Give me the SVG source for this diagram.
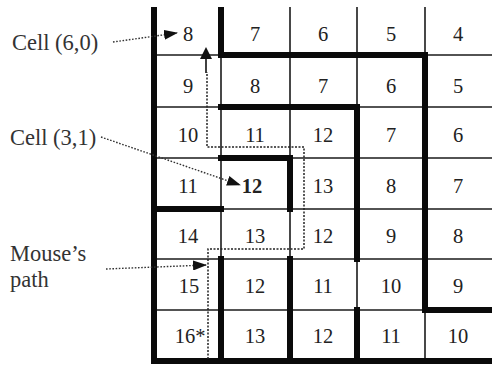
<svg xmlns="http://www.w3.org/2000/svg" width="492" height="365" viewBox="0 0 492 365">
<style>
  .thin { stroke: #1a1a1a; stroke-width: 1.6; fill: none; }
  .thick { stroke: #0a0a0a; stroke-width: 6; fill: none; stroke-linecap: square; }
  .num { font-family: "Liberation Serif", "Times New Roman", serif; font-size: 20.5px; fill: #222; text-anchor: middle; }
  .lbl { font-family: "Liberation Serif", "Times New Roman", serif; font-size: 22.5px; fill: #333; }
  .dot { stroke: #333; stroke-width: 1.4; stroke-dasharray: 1.6 1.6; fill: none; }
  .path { stroke: #222; stroke-width: 1.5; stroke-dasharray: 2 1.5; fill: none; }
</style>
<defs>
  <marker id="ahBig" markerWidth="14" markerHeight="10" refX="13" refY="5" orient="auto" markerUnits="userSpaceOnUse">
    <path d="M0,0 L14,5 L0,10 Z" fill="#111"/>
  </marker>
</defs>
<rect width="492" height="365" fill="#fff"/>

<g id="grid">
  <line class="thin" x1="221" y1="55" x2="221" y2="259"/>
  <line class="thin" x1="290" y1="7" x2="290" y2="158"/>
  <line class="thin" x1="290" y1="209" x2="290" y2="259"/>
  <line class="thin" x1="357" y1="7" x2="357" y2="107"/>
  <line class="thin" x1="357" y1="259" x2="357" y2="310"/>
  <line class="thin" x1="425" y1="7" x2="425" y2="55"/>
  <line class="thin" x1="425" y1="310" x2="425" y2="361"/>
  <line class="thin" x1="154" y1="55" x2="221" y2="55"/>
  <line class="thin" x1="425" y1="55" x2="492" y2="55"/>
  <line class="thin" x1="154" y1="107" x2="221" y2="107"/>
  <line class="thin" x1="357" y1="107" x2="492" y2="107"/>
  <line class="thin" x1="154" y1="158" x2="221" y2="158"/>
  <line class="thin" x1="290" y1="158" x2="492" y2="158"/>
  <line class="thin" x1="221" y1="209" x2="492" y2="209"/>
  <line class="thin" x1="154" y1="259" x2="492" y2="259"/>
  <line class="thin" x1="154" y1="310" x2="425" y2="310"/>
  <line class="thick" x1="154" y1="10" x2="154" y2="361"/>
  <line class="thick" x1="154" y1="361" x2="492" y2="361"/>
  <line class="thick" x1="221" y1="10" x2="221" y2="55"/>
  <line class="thick" x1="221" y1="55" x2="425" y2="55"/>
  <line class="thick" x1="425" y1="55" x2="425" y2="310"/>
  <line class="thick" x1="425" y1="310" x2="492" y2="310"/>
  <line class="thick" x1="221" y1="107" x2="357" y2="107"/>
  <line class="thick" x1="357" y1="107" x2="357" y2="259"/>
  <line class="thick" x1="357" y1="310" x2="357" y2="361"/>
  <line class="thick" x1="221" y1="158" x2="290" y2="158"/>
  <line class="thick" x1="290" y1="158" x2="290" y2="209"/>
  <line class="thick" x1="154" y1="209" x2="221" y2="209"/>
  <line class="thick" x1="221" y1="259" x2="221" y2="361"/>
  <line class="thick" x1="290" y1="259" x2="290" y2="361"/>
</g>

<g id="cells">
  <g id="row0">
    <text class="num" x="188" y="41">8</text>
    <text class="num" x="255" y="41">7</text>
    <text class="num" x="323" y="41">6</text>
    <text class="num" x="391" y="41">5</text>
    <text class="num" x="458" y="41">4</text>
  </g>
  <g id="row1">
    <text class="num" x="188" y="93">9</text>
    <text class="num" x="255" y="93">8</text>
    <text class="num" x="323" y="93">7</text>
    <text class="num" x="391" y="93">6</text>
    <text class="num" x="458" y="93">5</text>
  </g>
  <g id="row2">
    <text class="num" x="188" y="142">10</text>
    <text class="num" x="255" y="142">11</text>
    <text class="num" x="323" y="142">12</text>
    <text class="num" x="391" y="142">7</text>
    <text class="num" x="458" y="142">6</text>
  </g>
  <g id="row3">
    <text class="num" x="188" y="193">11</text>
    <text class="num" x="252" y="193" font-weight="bold">12</text>
    <text class="num" x="323" y="193">13</text>
    <text class="num" x="391" y="193">8</text>
    <text class="num" x="458" y="193">7</text>
  </g>
  <g id="row4">
    <text class="num" x="188" y="243">14</text>
    <text class="num" x="255" y="243">13</text>
    <text class="num" x="323" y="243">12</text>
    <text class="num" x="391" y="243">9</text>
    <text class="num" x="458" y="243">8</text>
  </g>
  <g id="row5">
    <text class="num" x="189" y="293">15</text>
    <text class="num" x="255" y="293">12</text>
    <text class="num" x="323" y="293">11</text>
    <text class="num" x="391" y="293">10</text>
    <text class="num" x="458" y="293">9</text>
  </g>
  <g id="row6">
    <text class="num" x="190" y="343">16*</text>
    <text class="num" x="255" y="343">13</text>
    <text class="num" x="323" y="343">12</text>
    <text class="num" x="391" y="343">11</text>
    <text class="num" x="458" y="343">10</text>
  </g>
</g>

<g id="label-cell60"><text class="lbl" x="12" y="50">Cell (6,0)</text></g>
<g id="label-cell31"><text class="lbl" x="10" y="145">Cell (3,1)</text></g>
<g id="label-mouse"><text class="lbl" x="10" y="261">Mouse’s</text><text class="lbl" x="10" y="287">path</text></g>

<g id="connectors">
  <line class="dot" x1="113" y1="42" x2="177" y2="33" marker-end="url(#ahBig)"/>
  <line class="dot" x1="101" y1="137" x2="240" y2="185" marker-end="url(#ahBig)"/>
  <line class="dot" x1="106" y1="269" x2="206" y2="265" marker-end="url(#ahBig)"/>
  <polyline class="path" points="208,359 208,249 304,249 304,147 207,147 207,72"/>
  <line stroke="#111" stroke-width="1.6" x1="206" y1="73" x2="206" y2="56"/>
  <path d="M200,59 L206,47 L212,59 Z" fill="#111"/>
</g>
</svg>
